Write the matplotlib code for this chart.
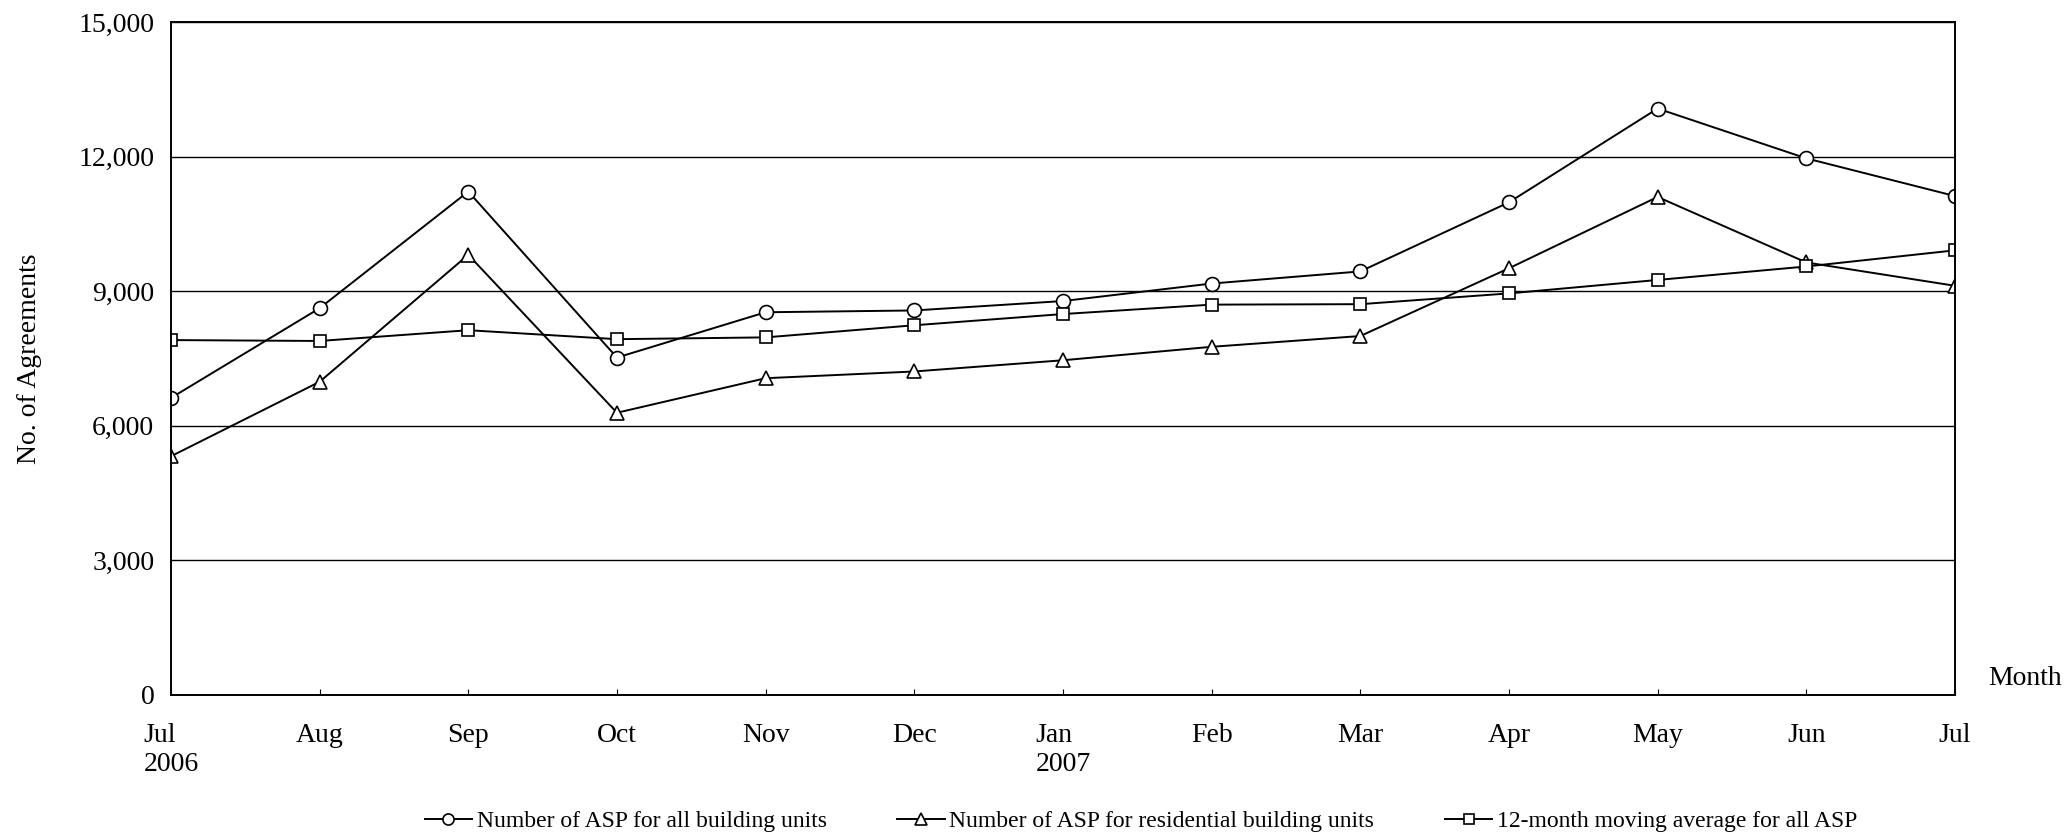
import matplotlib.pyplot as plt

months = ["Jul\n2006", "Aug", "Sep", "Oct", "Nov", "Dec", "Jan\n2007",
          "Feb", "Mar", "Apr", "May", "Jun", "Jul"]
all_units = [6620, 8620, 11220, 7520, 8530, 8570, 8780, 9170, 9440, 10980, 13070, 11960, 11120]
residential = [5320, 6980, 9810, 6290, 7060, 7210, 7460, 7760, 8000, 9510, 11100, 9640, 9120]
moving_avg = [7910, 7890, 8130, 7930, 7970, 8240, 8490, 8700, 8710, 8950, 9250, 9550, 9910]

plt.rcParams['font.family'] = ['Liberation Serif', 'DejaVu Serif']

fig = plt.figure(figsize=(20.67, 8.32), dpi=100)
ax = fig.add_axes([0.0827, 0.1647, 0.8631, 0.8089])

x = list(range(len(months)))
l1, = ax.plot(x, all_units, color='black', lw=1.4, marker='o', ms=10,
              mfc='white', mec='black', mew=1.2, label='Number of ASP for all building units')
l2, = ax.plot(x, residential, color='black', lw=1.4, marker='^', ms=10,
              mfc='white', mec='black', mew=1.2, label='Number of ASP for residential building units')
l3, = ax.plot(x, moving_avg, color='black', lw=1.4, marker='s', ms=9,
              mfc='white', mec='black', mew=1.2, label='12-month moving average for all ASP')

ax.set_xlim(0, 12)
ax.set_ylim(0, 15000)
ax.set_yticks([0, 3000, 6000, 9000, 12000, 15000])
ax.set_yticklabels(['0', '3,000', '6,000', '9,000', '12,000', '15,000'])
ax.set_xticks(x)
ax.set_xticklabels(months)
ax.yaxis.grid(True, color='black', lw=1.0)
ax.set_axisbelow(True)
for s in ax.spines.values():
    s.set_linewidth(1.4)
ax.tick_params(axis='y', length=0, labelsize=20, pad=12)
ax.tick_params(axis='x', direction='in', length=4, labelsize=20, pad=20)
for t in ax.get_xticklabels():
    t.set_horizontalalignment('center')
    t.set_multialignment('left')

ax.set_ylabel('No. of Agreements', fontsize=20, labelpad=26)
fig.text(0.962, 0.185, 'Month', fontsize=20, ha='left', va='center')

fig.legend(handles=[l1, l2, l3], loc='lower center', bbox_to_anchor=(0.552, -0.026),
           ncol=3, frameon=False, fontsize=17, handlelength=2.0,
           handletextpad=0.2, columnspacing=3.0, markerscale=0.8)

fig.savefig('out.png', dpi=100)
